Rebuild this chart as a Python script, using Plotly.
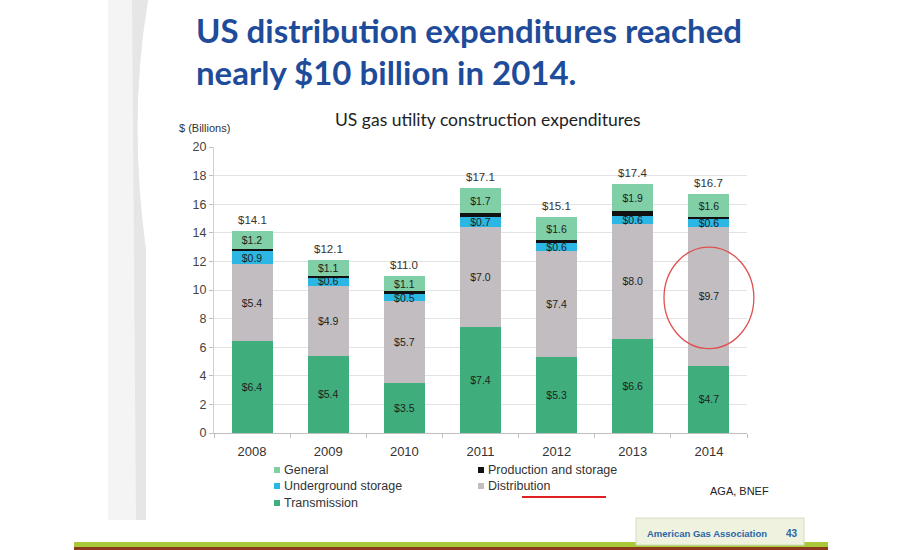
import plotly.graph_objects as go

years = ["2008", "2009", "2010", "2011", "2012", "2013", "2014"]
transmission = [6.4, 5.4, 3.5, 7.4, 5.3, 6.6, 4.7]
distribution = [5.4, 4.9, 5.7, 7.0, 7.4, 8.0, 9.7]
underground = [0.9, 0.6, 0.5, 0.7, 0.6, 0.6, 0.6]
production = [0.2, 0.1, 0.2, 0.3, 0.2, 0.3, 0.1]
general = [1.2, 1.1, 1.1, 1.7, 1.6, 1.9, 1.6]
totals = [14.1, 12.1, 11.0, 17.1, 15.1, 17.4, 16.7]

series = [
    ("Transmission", transmission, "#3fae7c", True),
    ("Distribution", distribution, "#c1bdc0", True),
    ("Underground storage", underground, "#2cb6e3", True),
    ("Production and storage", production, "#111111", False),
    ("General", general, "#80cfa6", True),
]

W, H = 900, 550
L, R, T, B = 214, 747, 147, 433
xpos = list(range(len(years)))
XMIN, XMAX, YMIN, YMAX = -0.5, len(years) - 0.5, 0, 20


def px(x):
    return (x - L) / (R - L)


def py(y):
    return (B - y) / (B - T)


def dx(v):
    return (v - XMIN) / (XMAX - XMIN)


def dy(v):
    return (v - YMIN) / (YMAX - YMIN)


fig = go.Figure()
for name, vals, color, lab in series:
    fig.add_trace(go.Bar(
        x=xpos, y=vals, name=name, marker_color=color,
        marker_line_width=0, width=0.54,
        text=[f"${v:.1f}" for v in vals] if lab else None,
        textposition="inside" if lab else "none",
        insidetextanchor="middle",
        textfont=dict(family="Liberation Sans", size=10.5, color="#1e1e1e"),
        showlegend=False, hoverinfo="skip",
    ))

annotations = []
for xi, tot in zip(xpos, totals):
    annotations.append(dict(x=xi, y=tot, xref="x", yref="y", text=f"${tot:.1f}",
                            showarrow=False, yanchor="bottom", yshift=3,
                            font=dict(family="Liberation Sans", size=11.5, color="#333333")))

shapes = []
# red circle around 2014 distribution (paper coords so it is not clipped)
cx = xpos[-1]
shapes.append(dict(type="circle", xref="paper", yref="paper",
                   x0=dx(cx - 0.59), x1=dx(cx + 0.59), y0=dy(5.9), y1=dy(13.0),
                   line=dict(color="#e05050", width=1.3)))

# legend (manual, 2 columns)
legend_items = [
    ("General", "#80cfa6", 274, 470),
    ("Production and storage", "#111111", 478, 470),
    ("Underground storage", "#2cb6e3", 274, 486),
    ("Distribution", "#c1bdc0", 478, 486),
    ("Transmission", "#3fae7c", 274, 503),
]
for name, color, lx, ly in legend_items:
    shapes.append(dict(type="rect", xref="paper", yref="paper",
                       x0=px(lx), x1=px(lx + 6), y0=py(ly + 3), y1=py(ly - 3),
                       fillcolor=color, line_width=0))
    annotations.append(dict(x=px(lx + 8), y=py(ly), xref="paper", yref="paper", text=name,
                            showarrow=False, xanchor="left", yanchor="middle",
                            font=dict(family="Liberation Sans", size=12.5, color="#333333")))
# red underline under Distribution
shapes.append(dict(type="line", xref="paper", yref="paper", x0=px(522), x1=px(606),
                   y0=py(497), y1=py(497), line=dict(color="#e02020", width=2)))

# decorative slide elements
shapes.append(dict(type="path", xref="paper", yref="paper",
                   path=f"M {px(108)},{py(0)} L {px(148)},{py(0)} Q {px(128)},{py(120)} {px(146)},{py(250)} "
                        f"L {px(146)},{py(520)} L {px(108)},{py(520)} Z",
                   fillcolor="#f4f4f4", line_width=0, layer="below"))
shapes.append(dict(type="path", xref="paper", yref="paper",
                   path=f"M {px(132)},{py(0)} L {px(148)},{py(0)} Q {px(128)},{py(120)} {px(146)},{py(250)} "
                        f"L {px(146)},{py(520)} L {px(136)},{py(520)} Z",
                   fillcolor="#e6e6e6", line_width=0, layer="below"))
shapes.append(dict(type="rect", xref="paper", yref="paper", x0=px(74), x1=px(828),
                   y0=py(547), y1=py(542), fillcolor="#a8c83a", line_width=0))
shapes.append(dict(type="rect", xref="paper", yref="paper", x0=px(74), x1=px(828),
                   y0=py(550), y1=py(547), fillcolor="#8a3b1c", line_width=0))
shapes.append(dict(type="rect", xref="paper", yref="paper", x0=px(636), x1=px(804),
                   y0=py(545), y1=py(518), fillcolor="#eef2df",
                   line=dict(color="#d6dcc4", width=1)))

# titles and notes
annotations += [
    dict(x=px(194), y=py(30), xref="paper", yref="paper", xanchor="left", yanchor="middle",
         text="<b>US distribution expenditures reached</b>", showarrow=False,
         font=dict(family="Lato", size=33, color="#1f4c9a")),
    dict(x=px(194), y=py(72), xref="paper", yref="paper", xanchor="left", yanchor="middle",
         text="<b>nearly $10 billion in 2014.</b>", showarrow=False,
         font=dict(family="Lato", size=33, color="#1f4c9a")),
    dict(x=px(488), y=py(119), xref="paper", yref="paper", xanchor="center", yanchor="middle",
         text="US gas utility construction expenditures", showarrow=False,
         font=dict(family="Lato", size=17.5, color="#222222")),
    dict(x=px(177), y=py(128), xref="paper", yref="paper", xanchor="left", yanchor="middle",
         text="$ (Billions)", showarrow=False,
         font=dict(family="Liberation Sans", size=11, color="#333333")),
    dict(x=px(708), y=py(491), xref="paper", yref="paper", xanchor="left", yanchor="middle",
         text="AGA, BNEF", showarrow=False,
         font=dict(family="Liberation Sans", size=11, color="#222222")),
    dict(x=px(645), y=py(533), xref="paper", yref="paper", xanchor="left", yanchor="middle",
         text="<b>American Gas Association</b>", showarrow=False,
         font=dict(family="Liberation Sans", size=9.5, color="#2a67a8")),
    dict(x=px(784), y=py(533), xref="paper", yref="paper", xanchor="left", yanchor="middle",
         text="<b>43</b>", showarrow=False,
         font=dict(family="Liberation Sans", size=10, color="#2a67a8")),
]

fig.update_layout(
    width=W, height=H, barmode="stack",
    margin=dict(l=L, r=W - R, t=T, b=H - B),
    paper_bgcolor="white", plot_bgcolor="white",
    shapes=shapes, annotations=annotations,
    uniformtext=dict(minsize=10.5, mode="show"),
    showlegend=False,
    xaxis=dict(range=[XMIN, XMAX], tickvals=xpos, ticktext=years,
               showline=True, linecolor="#bfbfbf", linewidth=1,
               ticks="", ticklabelstandoff=6, showgrid=False, zeroline=False,
               minor=dict(tickvals=[i - 0.5 for i in range(len(years) + 1)],
                          ticks="outside", ticklen=4, tickcolor="#bfbfbf", showgrid=False),
               tickfont=dict(family="Liberation Sans", size=13, color="#333333")),
    yaxis=dict(range=[YMIN, YMAX], dtick=2, showline=True, linecolor="#d0d0d0", linewidth=1,
               ticks="outside", ticklen=4, tickcolor="#bfbfbf",
               gridcolor="#e3e3e3", gridwidth=1, zeroline=False,
               tickfont=dict(family="Liberation Sans", size=12.5, color="#444444")),
)

fig.write_html("out.html")
